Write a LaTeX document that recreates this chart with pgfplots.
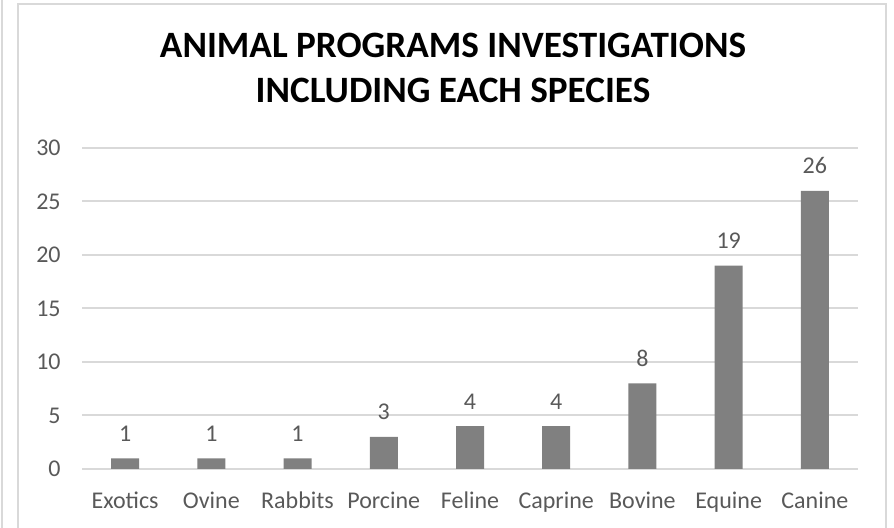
\documentclass[border=0pt]{standalone}
\usepackage{fontspec}
\setmainfont{Carlito}
\usepackage{pgfplots}
\pgfplotsset{compat=1.18}
\definecolor{gridgray}{HTML}{D9D9D9}
\definecolor{bargray}{HTML}{808080}
\definecolor{txtgray}{HTML}{595959}
\begin{document}
\begin{tikzpicture}
\path[use as bounding box] (0,0) rectangle (447pt,264pt);
\draw[gridgray, line width=0.6pt] (1pt,-2pt) -- (1pt,266pt);
\draw[gridgray, line width=0.6pt] (9pt,-2pt) -- (9pt,262pt) -- (443pt,262pt) -- (443pt,-2pt);
\node[anchor=base, font=\fontsize{18.6}{21}\selectfont\bfseries, text=black, inner sep=0pt] at (226.5pt,235.2pt) {ANIMAL PROGRAMS INVESTIGATIONS};
\node[anchor=base, font=\fontsize{18.6}{21}\selectfont\bfseries, text=black, inner sep=0pt] at (226.5pt,212.5pt) {INCLUDING EACH SPECIES};
\begin{axis}[
  at={(41pt,29.5pt)}, anchor=south west,
  scale only axis, width=388pt, height=160.5pt,
  xmin=-0.5, xmax=8.5, ymin=0, ymax=30,
  xtick=data,
  xticklabels={Exotics,Ovine,Rabbits,Porcine,Feline,Caprine,Bovine,Equine,Canine},
  ytick={0,5,10,15,20,25,30},
  axis x line=bottom, axis y line=left,
  x axis line style={gridgray, line width=1pt, -},
  y axis line style={draw=none, -},
  major tick length=0pt,
  ymajorgrids, grid style={gridgray, line width=1pt},
  /pgf/number format/assume math mode=true,
  tick label style={font=\fontsize{12}{14}\selectfont, text=txtgray, inner sep=0pt},
  yticklabel style={anchor=east, xshift=-10.5pt},
  xticklabel style={anchor=base, yshift=-20pt},
  ybar, bar width=14pt,
  nodes near coords,
  every node near coord/.append style={font=\fontsize{12}{14}\selectfont, text=txtgray, anchor=base, yshift=8.5pt, inner sep=0pt},
  clip=false,
]
\addplot[fill=bargray, draw=none] coordinates {(0,1) (1,1) (2,1) (3,3) (4,4) (5,4) (6,8) (7,19) (8,26)};
\end{axis}
\end{tikzpicture}
\end{document}
